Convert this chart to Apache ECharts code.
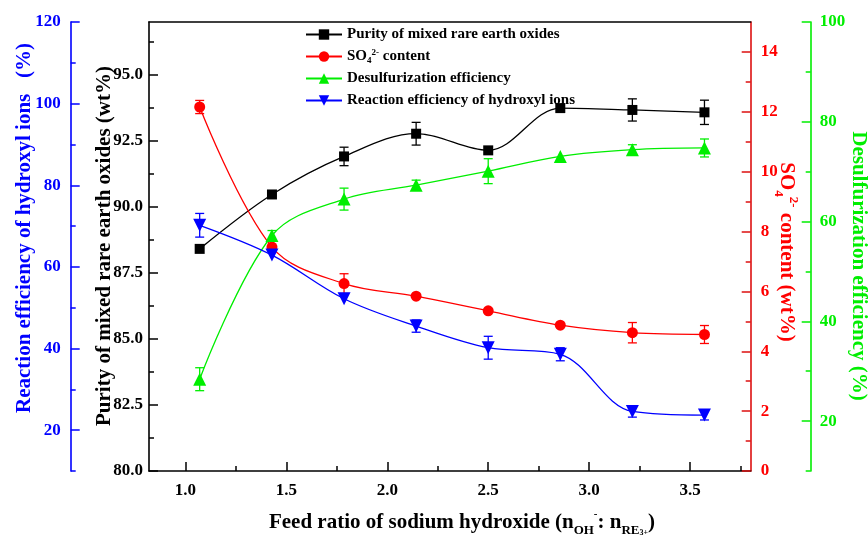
<!DOCTYPE html>
<html>
<head>
<meta charset="utf-8">
<script src="https://cdn.jsdelivr.net/npm/echarts@6/dist/echarts.min.js"></script>
<style>
html,body{margin:0;padding:0;background:#fff;}
#chart{width:868px;height:541px;}
</style>
</head>
<body>
<div id="chart"></div>
<script>
// ---- data ----
const feedRatio = [1.071, 1.429, 1.786, 2.143, 2.5, 2.857, 3.214, 3.571];
const purity = [88.41, 90.47, 91.91, 92.77, 92.14, 93.74, 93.67, 93.58];
const purityErr = [0, 0, 0.35, 0.43, 0, 0, 0.42, 0.46];
const so4Content = [12.16, 7.48, 6.26, 5.84, 5.35, 4.87, 4.62, 4.56];
const so4Err = [0.22, 0, 0.33, 0, 0, 0, 0.34, 0.30];
const desulfEff = [28.4, 57.2, 64.5, 67.3, 70.1, 73.05, 74.4, 74.75];
const desulfErr = [2.3, 1.0, 2.2, 1.0, 2.5, 0, 1.0, 1.8];
const hydroxylEff = [70.2, 62.9, 52.2, 45.5, 40.2, 38.6, 24.6, 23.7];
const hydroxylErr = [2.9, 0, 0, 1.5, 2.8, 1.6, 1.4, 1.2];

const xMajor = [1.0, 1.5, 2.0, 2.5, 3.0, 3.5];
const xMinor = [1.25, 1.75, 2.25, 2.75, 3.25, 3.75];
const purityMajor = [80, 82.5, 85, 87.5, 90, 92.5, 95];
const purityMinor = [81.25, 83.75, 86.25, 88.75, 91.25, 93.75, 96.25];
const hydroxylMajor = [20, 40, 60, 80, 100, 120];
const hydroxylMinor = [10, 30, 50, 70, 90, 110];
const so4Major = [0, 2, 4, 6, 8, 10, 12, 14];
const so4Minor = [1, 3, 5, 7, 9, 11, 13];
const desulfMajor = [20, 40, 60, 80, 100];
const desulfMinor = [10, 30, 50, 70, 90];

const names = ['Purity of mixed rare earth oxides', 'SO4', 'Desulfurization efficiency', 'Reaction efficiency of hydroxyl ions'];

// ---- styling ----
const FONT = '"Liberation Serif", "Times New Roman", serif';
const BLACK = '#000000', RED = '#ff0000', GREEN = '#00ee00', BLUE = '#0000ff';

const chart = echarts.init(document.getElementById('chart'), null, {renderer: 'canvas'});

function yPair(opts) {
  const base = {
    type: 'value', min: opts.min, max: opts.max, position: opts.position, offset: opts.offset,
    splitLine: {show: false}, scale: false
  };
  const main = Object.assign({}, base, {
    axisLine: {show: true, onZero: false, lineStyle: {color: opts.lineColor, width: 1.6}},
    axisTick: {show: true, inside: true, length: 9, customValues: opts.major, lineStyle: {color: opts.lineColor, width: 1.5}},
    axisLabel: {show: true, customValues: opts.major, margin: opts.margin, color: opts.labelColor,
      fontFamily: FONT, fontWeight: 'bold', fontSize: opts.fontSize,
      formatter: opts.fmt || (v => String(v))}
  });
  const minor = Object.assign({}, base, {
    axisLine: {show: false},
    axisTick: {show: true, inside: true, length: 5, customValues: opts.minor, lineStyle: {color: opts.lineColor, width: 1.5}},
    axisLabel: {show: false}
  });
  return [main, minor];
}

const [pMain, pMinor] = yPair({min: 80, max: 97, position: 'left', offset: 0, lineColor: BLACK, labelColor: BLACK,
  major: purityMajor, minor: purityMinor, margin: 6, fontSize: 17, fmt: v => v.toFixed(1)});
const [hMain, hMinor] = yPair({min: 10, max: 120, position: 'left', offset: 78.3, lineColor: BLUE, labelColor: BLUE,
  major: hydroxylMajor, minor: hydroxylMinor, margin: 10, fontSize: 17});
const [sMain, sMinor] = yPair({min: 0, max: 15, position: 'right', offset: 0, lineColor: '#dd1111', labelColor: RED,
  major: so4Major, minor: so4Minor, margin: 10, fontSize: 17});
const [dMain, dMinor] = yPair({min: 10, max: 100, position: 'right', offset: 60, lineColor: GREEN, labelColor: GREEN,
  major: desulfMajor, minor: desulfMinor, margin: 9, fontSize: 17});

function lineSeries(name, yIdx, vals, color, symbol, size, rotate) {
  return {
    name: name, type: 'line', yAxisIndex: yIdx, xAxisIndex: 0,
    data: feedRatio.map((x, i) => [x, vals[i]]),
    smooth: 0.35, symbol: symbol, symbolSize: size, symbolRotate: rotate || 0,
    lineStyle: {color: color, width: 1.3}, itemStyle: {color: color},
    z: 3, animation: false
  };
}
function errSeries(name, yIdx, vals, errs, color) {
  return {
    name: name, type: 'custom', yAxisIndex: yIdx, xAxisIndex: 0, silent: true, z: 2,
    data: feedRatio.map((x, i) => [x, vals[i], errs[i]]),
    encode: {x: 0, y: 1},
    renderItem: function (params, api) {
      const e = api.value(2);
      if (!e) return null;
      const x = api.value(0), y = api.value(1);
      const t = api.coord([x, y + e]);
      const b = api.coord([x, y - e]);
      const hw = 4.5;
      const st = {stroke: color, lineWidth: 1.3};
      return {type: 'group', children: [
        {type: 'line', shape: {x1: t[0], y1: t[1], x2: b[0], y2: b[1]}, style: st},
        {type: 'line', shape: {x1: t[0] - hw, y1: t[1], x2: t[0] + hw, y2: t[1]}, style: st},
        {type: 'line', shape: {x1: b[0] - hw, y1: b[1], x2: b[0] + hw, y2: b[1]}, style: st}
      ]};
    },
    animation: false
  };
}

const titleBase = {fontFamily: FONT, fontWeight: 'bold', fontSize: 21};

const option = {
  backgroundColor: '#ffffff',
  animation: false,
  grid: {left: 149, right: 117.3, top: 22, bottom: 70, containLabel: false},
  legend: {
    data: names, orient: 'vertical', left: 305, top: 26, itemGap: 5, itemWidth: 36, itemHeight: 13,
    padding: 0,
    textStyle: {fontFamily: FONT, fontWeight: 'bold', fontSize: 15, color: BLACK, lineHeight: 17,
      rich: {
        b: {fontFamily: FONT, fontWeight: 'bold', fontSize: 15, color: BLACK, lineHeight: 17},
        sub: {fontFamily: FONT, fontWeight: 'bold', fontSize: 9, color: BLACK, verticalAlign: 'bottom', lineHeight: 9},
        sup: {fontFamily: FONT, fontWeight: 'bold', fontSize: 9, color: BLACK, verticalAlign: 'top', lineHeight: 9}
      }},
    formatter: function (n) { return n === 'SO4' ? '{b|SO}{sub|4}{sup|2-}{b| content}' : n; }
  },
  xAxis: [
    {type: 'value', min: 0.82, max: 3.8, position: 'bottom',
      axisLine: {show: true, onZero: false, lineStyle: {color: BLACK, width: 1.6}},
      axisTick: {show: true, inside: true, length: 9, customValues: xMajor, lineStyle: {color: BLACK, width: 1.5}},
      axisLabel: {show: true, customValues: xMajor, margin: 11, color: BLACK, fontFamily: FONT, fontWeight: 'bold', fontSize: 17,
        formatter: v => v.toFixed(1)},
      splitLine: {show: false}},
    {type: 'value', min: 0.82, max: 3.8, position: 'bottom',
      axisLine: {show: false},
      axisTick: {show: true, inside: true, length: 5, customValues: xMinor, lineStyle: {color: BLACK, width: 1.5}},
      axisLabel: {show: false}, splitLine: {show: false}},
    {type: 'value', min: 0.82, max: 3.8, position: 'top',
      axisLine: {show: true, onZero: false, lineStyle: {color: BLACK, width: 1.6}},
      axisTick: {show: false}, axisLabel: {show: false}, splitLine: {show: false}}
  ],
  yAxis: [pMain, hMain, sMain, dMain, pMinor, hMinor, sMinor, dMinor],
  series: [
    errSeries('err-purity', 0, purity, purityErr, BLACK),
    errSeries('err-so4', 2, so4Content, so4Err, RED),
    errSeries('err-desulf', 3, desulfEff, desulfErr, GREEN),
    errSeries('err-hydroxyl', 1, hydroxylEff, hydroxylErr, BLUE),
    lineSeries(names[0], 0, purity, BLACK, 'rect', 10),
    lineSeries(names[1], 2, so4Content, RED, 'circle', 11),
    lineSeries(names[2], 3, desulfEff, GREEN, 'triangle', 13),
    lineSeries(names[3], 1, hydroxylEff, BLUE, 'triangle', 13, 180)
  ],
  graphic: [
    {type: 'text', x: 25, y: 228, rotation: Math.PI / 2,
      style: Object.assign({text: 'Reaction efficiency of hydroxyl ions   (%)', fill: BLUE, align: 'center', verticalAlign: 'middle'}, titleBase)},
    {type: 'text', x: 105, y: 246, rotation: Math.PI / 2,
      style: Object.assign({text: 'Purity of mixed rare earth oxides (wt%)', fill: BLACK, align: 'center', verticalAlign: 'middle'}, titleBase)},
    {type: 'text', x: 786, y: 252, rotation: -Math.PI / 2,
      style: Object.assign({text: '{m|SO}{sub|4}{sup|2-}{m| content (wt%)}', fill: RED, align: 'center', verticalAlign: 'middle',
        rich: {
          m: {fontFamily: FONT, fontWeight: 'bold', fontSize: 21, fill: RED, lineHeight: 28},
          sub: {fontFamily: FONT, fontWeight: 'bold', fontSize: 13, fill: RED, verticalAlign: 'bottom', lineHeight: 13},
          sup: {fontFamily: FONT, fontWeight: 'bold', fontSize: 13, fill: RED, verticalAlign: 'top', lineHeight: 13}
        }}, titleBase)},
    {type: 'text', x: 858, y: 266, rotation: -Math.PI / 2,
      style: Object.assign({text: 'Desulfurization efficiency (%)', fill: GREEN, align: 'center', verticalAlign: 'middle'}, titleBase)},
    {type: 'text', x: 462, y: 523,
      style: Object.assign({text: '{m|Feed ratio of sodium hydroxide (n}{sub|OH}{sup|-}{m|: n}{sub|RE}{sup2|3+}{m|)}', fill: BLACK, align: 'center', verticalAlign: 'middle',
        rich: {
          m: {fontFamily: FONT, fontWeight: 'bold', fontSize: 21, fill: BLACK, lineHeight: 28},
          sub: {fontFamily: FONT, fontWeight: 'bold', fontSize: 13, fill: BLACK, verticalAlign: 'bottom', lineHeight: 13},
          sup: {fontFamily: FONT, fontWeight: 'bold', fontSize: 11, fill: BLACK, verticalAlign: 'top', lineHeight: 28},
          sup2: {fontFamily: FONT, fontWeight: 'bold', fontSize: 8, fill: BLACK, verticalAlign: 'bottom', lineHeight: 22}
        }}, titleBase)}
  ]
};
chart.setOption(option);
</script>
</body>
</html>
